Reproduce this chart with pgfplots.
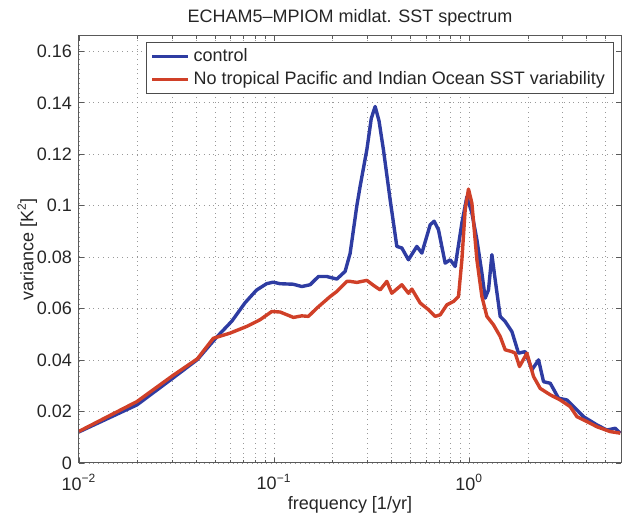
\documentclass[border=0pt]{standalone}
\usepackage{fontspec}
\setmainfont{Liberation Sans}
\usepackage{pgfplots}
\pgfplotsset{compat=1.18}
\usepackage{pgfplotstable}
\definecolor{cblue}{RGB}{46,60,162}
\definecolor{cred}{RGB}{208,64,40}
\pgfplotstableread{
f v
0.01 0.0121
0.01983 0.0226
0.03028 0.0330
0.04043 0.0402
0.05060 0.0488
0.06083 0.0552
0.07100 0.0623
0.08123 0.0672
0.09153 0.0697
0.09883 0.0703
0.10735 0.0697
0.12519 0.0695
0.13874 0.0686
0.15298 0.0693
0.16874 0.0725
0.18631 0.0725
0.20972 0.0715
0.23128 0.0745
0.24533 0.0815
0.26553 0.1000
0.27609 0.1076
0.29880 0.1218
0.31500 0.1340
0.32961 0.1386
0.34500 0.1330
0.36350 0.1218
0.39336 0.1024
0.42564 0.0842
0.45154 0.0836
0.48831 0.0790
0.53916 0.0842
0.57196 0.0816
0.63096 0.0926
0.66144 0.0940
0.69584 0.0907
0.75324 0.0777
0.79893 0.0790
0.84760 0.0764
0.91740 0.0933
0.97322 0.1035
1.03241 0.0972
1.09521 0.0868
1.16181 0.0738
1.20796 0.0641
1.25596 0.0673
1.30740 0.0810
1.35936 0.0712
1.44183 0.0570
1.52937 0.0550
1.65553 0.0511
1.78981 0.0427
1.93747 0.0433
2.09735 0.0362
2.26715 0.0401
2.40499 0.0316
2.60342 0.0310
2.87047 0.0252
3.16976 0.0245
3.56688 0.0206
3.85600 0.0180
4.51580 0.0148
5.08300 0.0128
5.60800 0.0135
5.94900 0.0116
}\control
\pgfplotstableread{
f v
0.01 0.0123
0.01983 0.0239
0.03028 0.0340
0.04043 0.0405
0.04884 0.0485
0.05949 0.0505
0.07244 0.0531
0.08478 0.0557
0.09732 0.0589
0.10735 0.0587
0.12563 0.0566
0.13874 0.0572
0.14997 0.0570
0.16558 0.0602
0.19372 0.0647
0.20972 0.0667
0.23597 0.0706
0.24533 0.0706
0.26553 0.0702
0.29880 0.0710
0.32961 0.0686
0.34963 0.0673
0.37840 0.0706
0.40132 0.0660
0.45154 0.0693
0.48831 0.0660
0.50835 0.0676
0.56072 0.0622
0.61841 0.0596
0.66929 0.0570
0.71000 0.0576
0.76871 0.0615
0.83091 0.0628
0.88134 0.0647
0.91740 0.0790
0.95386 0.0985
0.99177 0.1065
1.03241 0.1010
1.09521 0.0790
1.16181 0.0647
1.23245 0.0570
1.33236 0.0537
1.44183 0.0492
1.52937 0.0440
1.65553 0.0433
1.72140 0.0427
1.81113 0.0375
1.97676 0.0427
2.13737 0.0336
2.31192 0.0290
2.60342 0.0265
2.92880 0.0245
3.29551 0.0219
3.56688 0.0180
4.01420 0.0161
4.51580 0.0141
5.28500 0.0122
5.94900 0.0116
}\notrop
\begin{document}
\begin{tikzpicture}
\begin{axis}[
  scale only axis,
  width=271pt, height=213.5pt,
  xmode=log,
  xmin=0.01, xmax=6,
  ymin=0, ymax=0.166,
  xtick={0.01,0.1,1},
  xticklabels={10\textsuperscript{−2},10\textsuperscript{−1},10\textsuperscript{0}},
  minor xtick={0.02,0.03,0.04,0.05,0.06,0.07,0.08,0.09,0.2,0.3,0.4,0.5,0.6,0.7,0.8,0.9,2,3,4,5,6},
  ytick={0,0.02,0.04,0.06,0.08,0.1,0.12,0.14,0.16},
  yticklabels={0,0.02,0.04,0.06,0.08,0.1,0.12,0.14,0.16},
  xmajorgrids, xminorgrids, ymajorgrids,
  major grid style={dotted, black!40},
  minor grid style={dotted, black!40},
  tick align=inside,
  major tick length=2.5pt,
  minor tick length=1.5pt,
  every tick/.style={black!65, line width=0.4pt},
  axis line style={black!65, line width=0.5pt},
  tick label style={font=\fontsize{9}{10.8}\selectfont, text=black!85},
  xticklabel style={yshift=-2pt},
  label style={font=\fontsize{9}{10.8}\selectfont, text=black!85},
  title style={font=\fontsize{9}{10.8}\selectfont, text=black!85, yshift=-4.5pt},
  title={ECHAM5–MPIOM midlat. SST spectrum},
  xlabel={frequency [1/yr]},
  ylabel={variance [K\textsuperscript{2}]},
  xlabel style={yshift=4pt},
  ylabel style={yshift=-7pt},
  legend style={at={(rel axis cs:1,1)}, anchor=north east, xshift=-3.85pt, yshift=-3.15pt,
    draw=black!70, line width=0.4pt, fill=white,
    font=\fontsize{9}{10.8}\selectfont, text=black!85,
    inner xsep=2pt, inner ysep=1pt, row sep=-0.5pt},
  legend cell align=left,
  legend image code/.code={\draw[#1] (0pt,0pt) -- (18pt,0pt);},
]
\addplot[cblue, line width=1.7pt, line join=round] table[x=f,y=v] {\control};
\addlegendentry{control}
\addplot[cred, line width=1.7pt, line join=round] table[x=f,y=v] {\notrop};
\addlegendentry{No tropical Pacific and Indian Ocean SST variability}
\end{axis}
\pgfresetboundingbox
\path ([xshift=-39.5pt,yshift=-25.5pt]current axis.south west) rectangle ([xshift=0.5pt,yshift=18pt]current axis.north east);
\end{tikzpicture}
\end{document}
